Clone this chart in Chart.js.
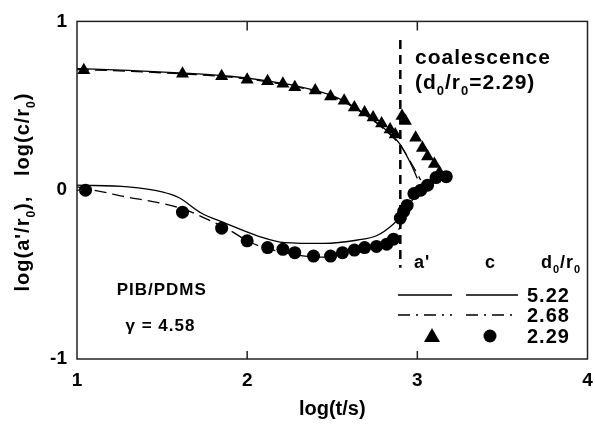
<!DOCTYPE html>
<html>
<head>
    <title>PIB/PDMS coalescence</title>
    <script src="https://cdn.jsdelivr.net/npm/chart.js@4/dist/chart.umd.min.js"></script>
    <style>
        body { margin: 0; background: #fff; }
        #wrap { width: 595px; height: 425px; }
    </style>
</head>
<body>
    <div id="wrap"><canvas id="chart" width="595" height="425"></canvas></div>
    <script>
        // measured points, d0/r0 = 2.29
        var triX = [1.04, 1.62, 1.85, 2.00, 2.12, 2.21, 2.28, 2.40, 2.49, 2.57, 2.63, 2.69, 2.74, 2.79, 2.84, 2.87, 2.91, 2.93, 2.99, 3.03, 3.06, 3.10, 3.13];
        var triY = [0.71, 0.69, 0.675, 0.655, 0.645, 0.63, 0.61, 0.59, 0.555, 0.53, 0.49, 0.46, 0.43, 0.395, 0.36, 0.33, 0.44, 0.41, 0.31, 0.25, 0.20, 0.155, 0.105];
        var circX = [1.05, 1.62, 1.85, 2.00, 2.12, 2.21, 2.28, 2.39, 2.49, 2.56, 2.63, 2.69, 2.76, 2.82, 2.86, 2.90, 2.92, 2.94, 2.98, 3.02, 3.06, 3.11, 3.17];
        var circY = [0.00, -0.13, -0.225, -0.30, -0.34, -0.35, -0.37, -0.39, -0.39, -0.37, -0.355, -0.34, -0.333, -0.32, -0.29, -0.165, -0.125, -0.09, -0.02, 0.0, 0.03, 0.075, 0.08];

        // model curves, d0/r0 = 5.22 (solid) and 2.68 (dashed)
        var aSolidX = [1.0, 1.3, 1.6, 1.9, 2.1, 2.3, 2.5, 2.65, 2.8, 2.9, 2.96, 3.0];
        var aSolidY = [0.72, 0.71, 0.695, 0.675, 0.65, 0.615, 0.56, 0.48, 0.37, 0.27, 0.16, 0.07];
        var aDashX = [1.0, 1.3, 1.6, 1.9, 2.1, 2.3, 2.5, 2.65, 2.8, 2.9, 2.97, 3.02];
        var aDashY = [0.715, 0.705, 0.69, 0.67, 0.645, 0.61, 0.555, 0.475, 0.365, 0.265, 0.15, 0.06];
        var cSolidX = [1.0, 1.3, 1.5, 1.6, 1.73, 1.87, 2.06, 2.22, 2.45, 2.65, 2.76, 2.86, 2.92, 2.97, 3.03, 3.08];
        var cSolidY = [0.03, 0.02, -0.01, -0.045, -0.135, -0.195, -0.27, -0.31, -0.315, -0.295, -0.27, -0.20, -0.135, -0.06, 0.0, 0.05];
        var cDashX = [1.0, 1.15, 1.29, 1.46, 1.64, 1.75, 1.89, 2.02, 2.26, 2.45, 2.65, 2.8, 2.87, 2.93, 3.0, 3.06, 3.1];
        var cDashY = [0.02, -0.01, -0.04, -0.07, -0.117, -0.165, -0.233, -0.31, -0.378, -0.397, -0.36, -0.32, -0.27, -0.15, -0.04, 0.03, 0.07];

        // coalescence marker
        var coalX = [2.9, 2.9];
        var coalY = [0.89, -0.46];

        var xTicks = [1, 2, 3, 4];
        var yTicks = [-1, 0, 1];
        var legendValues = ['5.22', '2.68', '2.29'];

        var FONT = '"Liberation Sans", Arial, sans-serif';

        function pts(xs, ys) {
            return xs.map(function (x, i) { return {x: x, y: ys[i]}; });
        }

        // text with subscripts: parts = [[text, isSub], ...]
        function richWidth(ctx, parts, size) {
            var w = 0;
            parts.forEach(function (p) {
                ctx.font = 'bold ' + (p[1] ? Math.round(size * 0.6) : size) + 'px ' + FONT;
                w += ctx.measureText(p[0]).width;
            });
            return w;
        }
        function drawRich(ctx, parts, x, y, size) {
            ctx.textBaseline = 'alphabetic';
            ctx.textAlign = 'left';
            parts.forEach(function (p) {
                ctx.font = 'bold ' + (p[1] ? Math.round(size * 0.6) : size) + 'px ' + FONT;
                ctx.fillText(p[0], x, p[1] ? y + size * 0.3 : y);
                x += ctx.measureText(p[0]).width;
            });
        }

        var framePlugin = {
            id: 'frame',
            afterDatasetsDraw: function (chart) {
                var ctx = chart.ctx, a = chart.chartArea;
                var xs = chart.scales.x, ys = chart.scales.y;
                ctx.save();
                ctx.strokeStyle = '#222';
                ctx.lineWidth = 1.5;
                ctx.strokeRect(a.left, a.top, a.right - a.left, a.bottom - a.top);
                ctx.beginPath();
                [2, 3].forEach(function (v) {
                    var px = xs.getPixelForValue(v);
                    ctx.moveTo(px, a.bottom); ctx.lineTo(px, a.bottom - 8);
                    ctx.moveTo(px, a.top); ctx.lineTo(px, a.top + 9);
                });
                var py0 = ys.getPixelForValue(0);
                ctx.moveTo(a.left, py0); ctx.lineTo(a.left + 5, py0);
                ctx.stroke();
                ctx.restore();
            }
        };

        var textPlugin = {
            id: 'texts',
            afterDraw: function (chart) {
                var ctx = chart.ctx;
                var xs = chart.scales.x, ys = chart.scales.y;
                function X(v) { return xs.getPixelForValue(v); }
                function Y(v) { return ys.getPixelForValue(v); }
                ctx.save();
                ctx.fillStyle = '#000';

                // y axis title
                var yTitle = [["log(a'/r", false], ['0', true], ['),   log(c/r', false], ['0', true], [')', false]];
                ctx.save();
                ctx.translate(29, 192);
                ctx.rotate(-Math.PI / 2);
                ctx.letterSpacing = '1px';
                var w = richWidth(ctx, yTitle, 20);
                drawRich(ctx, yTitle, -w / 2, 0, 20);
                ctx.restore();

                ctx.letterSpacing = '1px';
                drawRich(ctx, [['coalescence', false]], X(2.986), Y(0.79) + 7, 21);
                drawRich(ctx, [['(d', false], ['0', true], ['/r', false], ['0', true], ['=2.29)', false]], X(2.986), Y(0.64) + 7, 21);
                drawRich(ctx, [['PIB/PDMS', false]], X(1.233), Y(-0.585) + 6, 17);
                drawRich(ctx, [['\u03b3 = 4.58', false]], X(1.285), Y(-0.80) + 6, 17);

                // legend table
                var colA = 423, colC = 490, colV = 527;
                var rows = [295, 315, 336];
                var head = 262;
                drawRich(ctx, [["a'", false]], colA - 9, head + 6, 18);
                drawRich(ctx, [['c', false]], colC - 5, head + 6, 18);
                drawRich(ctx, [['d', false], ['0', true], ['/r', false], ['0', true]], colV + 14, head + 6, 18);

                ctx.strokeStyle = '#000';
                ctx.lineWidth = 1.3;
                [[0, []], [1, [12, 6, 2, 6]]].forEach(function (r) {
                    ctx.setLineDash(r[1]);
                    ctx.beginPath();
                    ctx.moveTo(398, rows[r[0]]); ctx.lineTo(452, rows[r[0]]);
                    ctx.moveTo(466, rows[r[0]]); ctx.lineTo(518, rows[r[0]]);
                    ctx.stroke();
                });
                ctx.setLineDash([]);
                ctx.beginPath();
                ctx.moveTo(432, rows[2] - 8); ctx.lineTo(440, rows[2] + 6); ctx.lineTo(424, rows[2] + 6);
                ctx.closePath(); ctx.fill();
                ctx.beginPath();
                ctx.arc(490, rows[2], 6.5, 0, Math.PI * 2); ctx.fill();

                legendValues.forEach(function (v, i) {
                    drawRich(ctx, [[v, false]], colV, rows[i] + 7, 20);
                });
                ctx.restore();
            }
        };

        var lineBase = {showLine: true, pointRadius: 0, borderColor: '#000', borderWidth: 1.3, cubicInterpolationMode: 'monotone', fill: false};

        var ctx = document.getElementById('chart').getContext('2d');
        var chart = new Chart(ctx, {
            type: 'scatter',
            data: {
                datasets: [
                    Object.assign({label: "a' 5.22", data: pts(aSolidX, aSolidY)}, lineBase),
                    Object.assign({label: "a' 2.68", data: pts(aDashX, aDashY), borderDash: [12, 6]}, lineBase),
                    Object.assign({label: 'c 5.22', data: pts(cSolidX, cSolidY)}, lineBase),
                    Object.assign({label: 'c 2.68', data: pts(cDashX, cDashY), borderDash: [12, 6]}, lineBase),
                    {label: "a' 2.29", data: pts(triX, triY), pointStyle: 'triangle', pointRadius: 7.5, backgroundColor: '#000', borderColor: '#000', borderWidth: 0},
                    {label: 'c 2.29', data: pts(circX, circY), pointStyle: 'circle', pointRadius: 6.5, backgroundColor: '#000', borderColor: '#000', borderWidth: 0},
                    {label: 'coalescence', data: pts(coalX, coalY), showLine: true, pointRadius: 0, borderColor: '#000', borderWidth: 2.5, borderDash: [9, 6]}
                ]
            },
            options: {
                responsive: false,
                animation: false,
                layout: {padding: {top: 14, right: 3, left: 0, bottom: 0}},
                plugins: {legend: {display: false}, tooltip: {enabled: false}},
                scales: {
                    x: {
                        type: 'linear', min: 1, max: 4,
                        afterBuildTicks: function (s) { s.ticks = xTicks.map(function (v) { return {value: v}; }); },
                        afterFit: function (s) { s.height = 66; s.paddingLeft = 0; s.paddingRight = 0; },
                        grid: {display: false, drawTicks: false},
                        border: {display: false},
                        ticks: {color: '#000', padding: 10, maxRotation: 0, font: {family: FONT, size: 19, weight: 'bold'}},
                        title: {display: true, text: 'log(t/s)', color: '#000', padding: {top: 0, bottom: 4}, font: {family: FONT, size: 20, weight: 'bold'}}
                    },
                    y: {
                        type: 'linear', min: -1, max: 1,
                        afterBuildTicks: function (s) { s.ticks = yTicks.map(function (v) { return {value: v}; }); },
                        afterFit: function (s) { s.width = 77; },
                        grid: {display: false, drawTicks: false},
                        border: {display: false},
                        ticks: {color: '#000', padding: 10, font: {family: FONT, size: 19, weight: 'bold'}}
                    }
                }
            },
            plugins: [framePlugin, textPlugin]
        });
    </script>
</body>
</html>
